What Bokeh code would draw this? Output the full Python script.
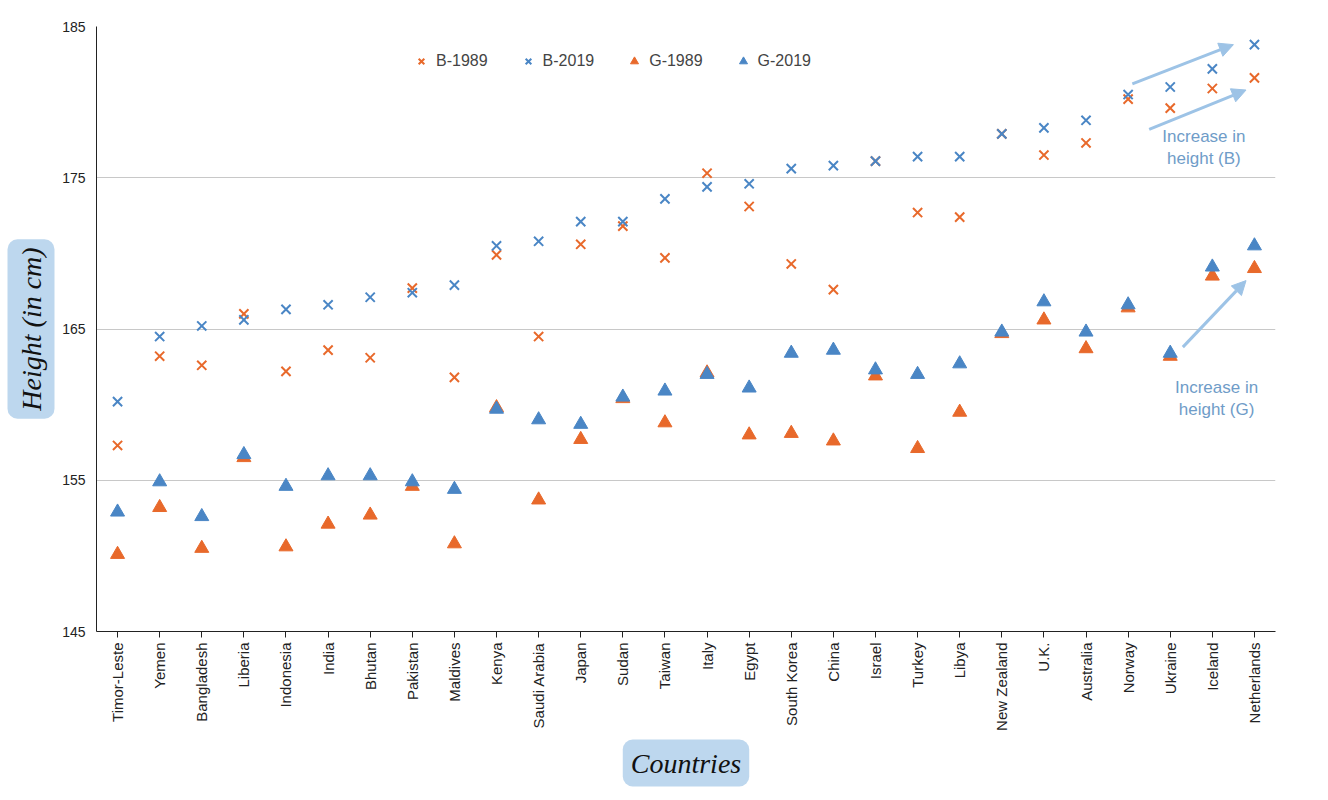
import math
from bokeh.plotting import figure
from bokeh.models import Label, Arrow, NormalHead, Legend, LegendItem, FixedTicker, Title
from bokeh.embed import file_html
from bokeh.resources import INLINE

countries = ["Timor-Leste","Yemen","Bangladesh","Liberia","Indonesia","India","Bhutan","Pakistan","Maldives","Kenya","Saudi Arabia","Japan","Sudan","Taiwan","Italy","Egypt","South Korea","China","Israel","Turkey","Libya","New Zealand","U.K.","Australia","Norway","Ukraine","Iceland","Netherlands"]
b1989 = [157.3,163.2,162.6,166.0,162.2,163.6,163.1,167.7,161.8,169.9,164.5,170.6,171.8,169.7,175.3,173.1,169.3,167.6,176.1,172.7,172.4,177.9,176.5,177.3,180.2,179.6,180.9,181.6]
b2019 = [160.2,164.5,165.2,165.6,166.3,166.6,167.1,167.4,167.9,170.5,170.8,172.1,172.1,173.6,174.4,174.6,175.6,175.8,176.1,176.4,176.4,177.9,178.3,178.8,180.5,181.0,182.2,183.8]
g1989 = [150.1,153.2,150.5,156.5,150.6,152.1,152.7,154.6,150.8,159.8,153.7,157.7,160.4,158.8,162.1,158.0,158.1,157.6,161.9,157.1,159.5,164.7,165.6,163.7,166.4,163.2,168.5,169.0]
g2019 = [152.9,154.9,152.6,156.7,154.6,155.3,155.3,154.9,154.4,159.7,159.0,158.7,160.5,160.9,162.0,161.1,163.4,163.6,162.3,162.0,162.7,164.8,166.8,164.8,166.6,163.4,169.1,170.5]
y_ticks = [145,155,165,175,185]

ORANGE = "#E8692B"; BLUE = "#4A86C5"; LIGHT = "#9DC3E6"; BOX = "#BDD7EE"
FONT = "Liberation Sans"

p = figure(x_range=countries, y_range=(145,185), width=1312, height=790,
           output_backend="svg", toolbar_location=None,
           min_border_left=60, min_border_right=37, min_border_top=26, min_border_bottom=20)
p.outline_line_color = None
p.xgrid.grid_line_color = None
p.ygrid.grid_line_color = "#C8C8C8"
p.yaxis.ticker = FixedTicker(ticks=y_ticks)
p.yaxis.major_tick_line_color = None
p.yaxis.minor_tick_line_color = None
p.yaxis.axis_line_color = "#222222"
p.xaxis.axis_line_color = "#222222"
p.xaxis.major_tick_line_color = "#222222"
p.xaxis.major_tick_out = 6
p.xaxis.major_tick_in = 0
p.xaxis.major_label_orientation = math.pi/2
for ax in (p.xaxis, p.yaxis):
    ax.major_label_text_font = FONT
    ax.major_label_text_color = "#222222"
p.xaxis.major_label_text_font_size = "15px"
p.yaxis.major_label_text_font_size = "14px"

r1 = p.scatter(countries, b1989, marker="x", size=13, line_width=2, color=ORANGE)
r2 = p.scatter(countries, b2019, marker="x", size=13, line_width=2, color=BLUE)
r3 = p.scatter(countries, g1989, marker="triangle", size=14, color=ORANGE)
r4 = p.scatter(countries, g2019, marker="triangle", size=14, color=BLUE)

leg = Legend(items=[LegendItem(label="B-1989", renderers=[r1]), LegendItem(label="B-2019", renderers=[r2]),
                    LegendItem(label="G-1989", renderers=[r3]), LegendItem(label="G-2019", renderers=[r4])],
             orientation="horizontal", location=(315, 560), border_line_color=None,
             background_fill_alpha=0, label_text_font=FONT, label_text_font_size="16px",
             spacing=30, glyph_width=20)
p.add_layout(leg)

for xs, ys, xe, ye in [(24.6,181.2,27.0,183.8),(25.0,178.2,27.3,180.8),(25.8,163.8,27.3,168.2)]:
    p.add_layout(Arrow(x_start=xs, y_start=ys, x_end=xe, y_end=ye, line_color=LIGHT, line_width=3,
                       end=NormalHead(size=14, fill_color=LIGHT, line_color=LIGHT)))

for x, y, t in [(26.3,177.0,"Increase in\nheight (B)"),(26.6,160.4,"Increase in\nheight (G)")]:
    p.add_layout(Label(x=x, y=y, text=t, text_align="center", text_baseline="middle",
                       text_color="#6F9CC8", text_font=FONT, text_font_size="17px"))

xt = Title(text="Countries", align="center", text_font="Liberation Serif", text_font_style="italic",
           text_font_size="28px", text_color="#111111", background_fill_color=BOX, border_radius=10,
           padding=8, standoff=8)
yt = Title(text="Height (in cm)", align="center", text_font="Liberation Serif", text_font_style="italic",
           text_font_size="28px", text_color="#111111", background_fill_color=BOX, border_radius=10,
           padding=8, standoff=10)
p.add_layout(xt, "below")
p.add_layout(yt, "left")

open("out.html", "w").write(file_html(p, INLINE))
